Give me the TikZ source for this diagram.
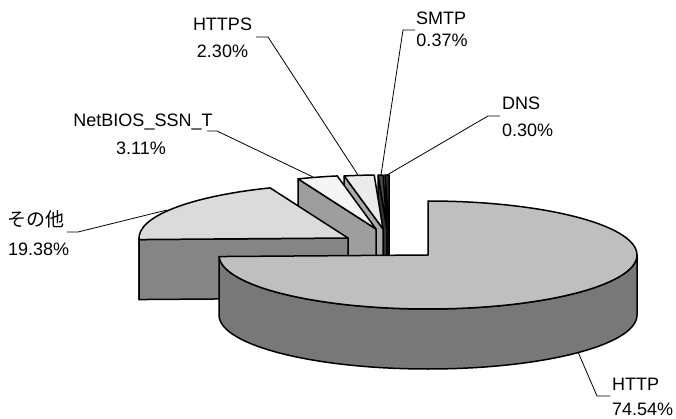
\documentclass[tikz,border=0pt]{standalone}
\usepackage{fontspec}
\setmainfont{Liberation Sans}
\newfontfamily\jpfont{Noto Sans CJK JP}
\usetikzlibrary{calc}

% ellipse radii of a slice top and the height of the pie
\def\rx{209}
\def\ry{54}
\def\h{60}

% top face of a slice between two angles
\newcommand\topface[4]{%
  \filldraw[face, fill=#4] (#1) -- ++({\rx*cos(#2)},{-\ry*sin(#2)})
    arc[start angle={-(#2)}, end angle={-(#3)}, x radius=\rx, y radius=\ry] -- cycle;}
% flat cut face of a slice at one angle
\newcommand\radface[3]{%
  \filldraw[face, fill=#3] (#1) -- ++({\rx*cos(#2)},{-\ry*sin(#2)}) -- ++(0,\h)
    -- ($(#1)+(0,\h)$) -- cycle;}
% curved outer wall of a slice between two angles
\newcommand\sideface[4]{%
  \filldraw[face, fill=#4] (#1) ++({\rx*cos(#2)},{-\ry*sin(#2)})
    arc[start angle={-(#2)}, end angle={-(#3)}, x radius=\rx, y radius=\ry] -- ++(0,\h)
    arc[start angle={-(#3)}, end angle={-(#2)}, x radius=\rx, y radius=\ry] -- cycle;}

\begin{document}
\begin{tikzpicture}[x=1pt, y=-1pt,
    face/.style={draw=black, line width=1.5pt, line join=round},
    lbl/.style={font=\fontsize{18}{21}\selectfont, inner sep=0pt},
    leader/.style={draw=black, line width=0.8pt}]
  \useasboundingbox (0,0) rectangle (676,419);

  % slice centres (each slice pulled out of the pie)
  \coordinate (cHTTP) at (428,255);
  \coordinate (cOther) at (348,238);
  \coordinate (cNB) at (376,229);
  \coordinate (cHTTPS) at (383,229);
  \coordinate (cSMTP) at (387,229);
  \coordinate (cDNS) at (389,229);

  % DNS 0.30%
  \radface{cDNS}{91.08}{black!88}
  \topface{cDNS}{90}{91.08}{black!82}
  % SMTP 0.37%
  \radface{cSMTP}{92.412}{black!80}
  \topface{cSMTP}{91.08}{92.412}{black!70}
  % HTTPS 2.30%
  \radface{cHTTPS}{100.692}{black!33}
  \topface{cHTTPS}{92.412}{100.692}{black!8}
  % NetBIOS_SSN_T 3.11%
  \radface{cNB}{111.888}{black!38}
  \topface{cNB}{100.692}{111.888}{black!4}
  % other 19.38%
  \sideface{cOther}{180}{181.656}{black!48}
  \radface{cOther}{181.656}{black!48}
  \topface{cOther}{111.888}{181.656}{black!14}
  % HTTP 74.54%
  \sideface{cHTTP}{-178.344}{0}{black!53}
  \topface{cHTTP}{-178.344}{90}{black!25}

  % labels
  \node[lbl, anchor=base] (httpsname) at (222.5,31) {HTTPS};
  \node[lbl, anchor=base] (httpspct) at (222.5,58) {2.30\%};
  \node[lbl, anchor=base] (smtpname) at (441,25) {SMTP};
  \node[lbl, anchor=base] (smtppct) at (442,47) {0.37\%};
  \node[lbl, anchor=base west] (dnsname) at (502,110) {DNS};
  \node[lbl, anchor=base west] (dnspct) at (502,137) {0.30\%};
  \node[lbl, anchor=base] (nbname) at (143,127) {NetBIOS\_SSN\_T};
  \node[lbl, anchor=base] (nbpct) at (141,155) {3.11\%};
  \node[lbl, anchor=base west, font=\fontsize{19}{21}\selectfont] (othname) at (7,227) {\jpfont その他};
  \node[lbl, anchor=base west] (othpct) at (8,255) {19.38\%};
  \node[lbl, anchor=base west] (httpname) at (612,390) {HTTP};
  \node[lbl, anchor=base west] (httppct) at (612,415) {74.54\%};

  % leader lines
  \coordinate (httpsA) at (256,37);  \coordinate (httpsB) at (268,37);  \coordinate (httpsC) at (358,175);
  \coordinate (smtpA) at (415,30);   \coordinate (smtpB) at (403,30);   \coordinate (smtpC) at (381,175);
  \coordinate (dnsA) at (500,116);   \coordinate (dnsB) at (488,116);   \coordinate (dnsC) at (387,175);
  \coordinate (nbA) at (207,131);    \coordinate (nbB) at (217,131);    \coordinate (nbC) at (313,177);
  \coordinate (othA) at (67,232);    \coordinate (othB) at (78,232);    \coordinate (othC) at (167,210);
  \coordinate (httpA) at (610,396);  \coordinate (httpB) at (597,396);  \coordinate (httpC) at (578,352);
  \draw[leader] (httpsA) -- (httpsB) -- (httpsC);
  \draw[leader] (smtpA) -- (smtpB) -- (smtpC);
  \draw[leader] (dnsA) -- (dnsB) -- (dnsC);
  \draw[leader] (nbA) -- (nbB) -- (nbC);
  \draw[leader] (othA) -- (othB) -- (othC);
  \draw[leader] (httpA) -- (httpB) -- (httpC);
\end{tikzpicture}
\end{document}
